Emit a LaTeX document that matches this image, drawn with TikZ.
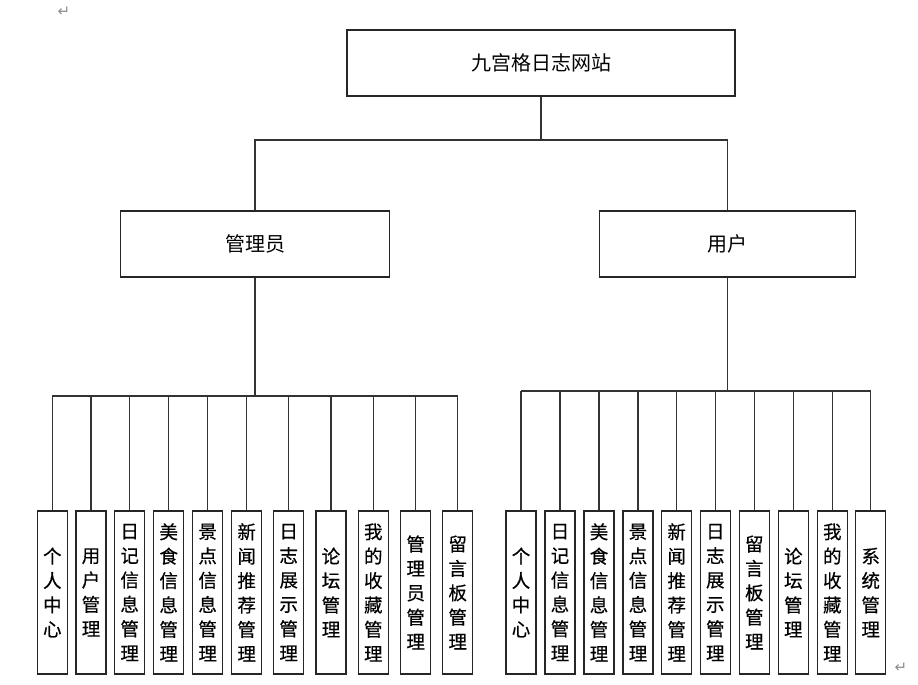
\documentclass[tikz,border=0pt]{standalone}
\usepackage{fontspec}
\newfontfamily\cjk{Noto Sans CJK SC}
\newfontfamily\cjkb[FakeBold=0.5]{Noto Sans CJK SC}
\newfontfamily\dejavu{DejaVu Sans}
\tikzset{
  box/.style={draw=black!85, line width=1.1pt, inner sep=0pt, fill=white,
    font=\cjk\fontsize{20}{20}\selectfont},
  leaf/.style={box, minimum width=30pt, minimum height=163pt, align=center,
    font=\cjkb\fontsize{18.5}{24.4}\selectfont},
  conn/.style={draw=black!80, line width=1.1pt},
  retmark/.style={text=black!45, font=\dejavu\fontsize{15}{15}\selectfont, inner sep=0pt}
}
\begin{document}
\begin{tikzpicture}[x=1pt, y=-1pt]
\useasboundingbox (0,0) rectangle (918,685);
\node[retmark] (m1) at (64,12) {↵};
\node[retmark] (m2) at (901,668) {↵};
\node[box, minimum width=388pt, minimum height=66pt] (root) at (541,63) {九宫格日志网站};
\node[box, minimum width=269pt, minimum height=66pt] (admin) at (255,244) {管理员};
\node[box, minimum width=256pt, minimum height=66pt] (user) at (727.5,244) {用户};
\coordinate (j0) at (541,140);
\draw[conn] (root.south) -- (j0);
\draw[conn] (admin.north) -- (admin.north |- j0) -- (user.north |- j0) -- (user.north);
% admin leaves
\foreach \x/\t [count=\i] in {52.3/个\\人\\中\\心, 91/用\\户\\管\\理, 129.7/日\\记\\信\\息\\管\\理,
  168.7/美\\食\\信\\息\\管\\理, 207.7/景\\点\\信\\息\\管\\理, 246.7/新\\闻\\推\\荐\\管\\理,
  288.7/日\\志\\展\\示\\管\\理, 331/论\\坛\\管\\理, 373.3/我\\的\\收\\藏\\管\\理,
  415.7/管\\理\\员\\管\\理, 457.7/留\\言\\板\\管\\理}
  \node[leaf] (a\i) at (\x,592.5) {\t};
\coordinate (ja) at (255,396);
\draw[conn] (admin.south) -- (ja);
\draw[conn] (a1.north |- ja) -- (a11.north |- ja);
\foreach \i in {1,...,11} \draw[conn] (a\i.north) -- (a\i.north |- ja);
% user leaves
\foreach \x/\t [count=\i] in {521/个\\人\\中\\心, 560/日\\记\\信\\息\\管\\理,
  599/美\\食\\信\\息\\管\\理, 638/景\\点\\信\\息\\管\\理, 676.7/新\\闻\\推\\荐\\管\\理,
  715.3/日\\志\\展\\示\\管\\理, 754.3/留\\言\\板\\管\\理, 793.3/论\\坛\\管\\理,
  832.3/我\\的\\收\\藏\\管\\理, 870.7/系\\统\\管\\理}
  \node[leaf] (u\i) at (\x,592.5) {\t};
\coordinate (ju) at (727.5,391);
\draw[conn] (user.south) -- (ju);
\draw[conn] (u1.north |- ju) -- (u10.north |- ju);
\foreach \i in {1,...,10} \draw[conn] (u\i.north) -- (u\i.north |- ju);
\end{tikzpicture}
\end{document}
